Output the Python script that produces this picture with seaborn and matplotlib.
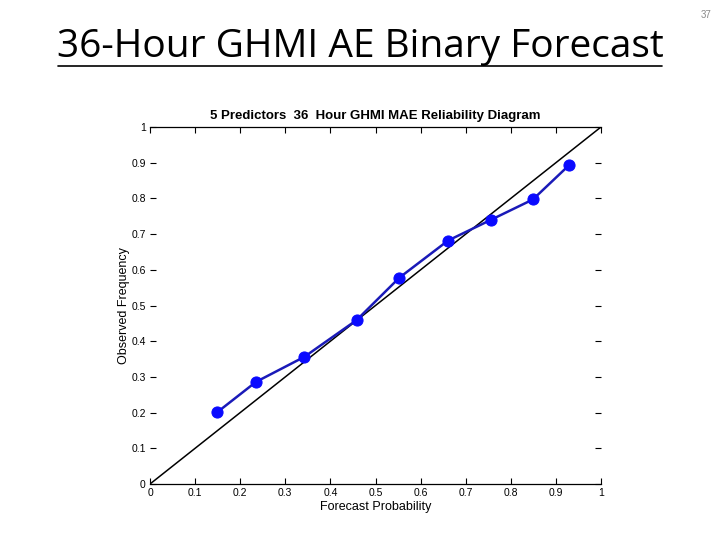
import numpy as np
import matplotlib
matplotlib.use("Agg")
import matplotlib.pyplot as plt
import seaborn as sns
import pandas as pd

# reliability points
forecast_prob = [0.149, 0.235, 0.342, 0.458, 0.553, 0.661, 0.756, 0.849, 0.930]
observed_freq = [0.201, 0.286, 0.356, 0.459, 0.578, 0.682, 0.740, 0.797, 0.894]
ticks = [0, 0.1, 0.2, 0.3, 0.4, 0.5, 0.6, 0.7, 0.8, 0.9, 1]
tick_labels = ["0", "0.1", "0.2", "0.3", "0.4", "0.5", "0.6", "0.7", "0.8", "0.9", "1"]

sns.set_style("white")
plt.rcParams["font.family"] = ["Liberation Sans", "DejaVu Sans"]
plt.rcParams["text.color"] = "black"
plt.rcParams["axes.labelcolor"] = "black"

df = pd.DataFrame({"Forecast Probability": forecast_prob,
                   "Observed Frequency": observed_freq})

fig = plt.figure(figsize=(7.2, 5.4), dpi=100)

# slide title, underlined
fig.text(0.5, 0.913, "36-Hour GHMI AE Binary Forecast", ha="center", va="center",
         fontsize=28, family=["Open Sans", "DejaVu Sans"], color="black")
fig.add_artist(plt.Line2D([58 / 720, 662 / 720], [1 - 66 / 540, 1 - 66 / 540],
                          color="black", lw=1.2, transform=fig.transFigure))
fig.text(706 / 720, 1 - 15 / 540, "37", ha="center", va="center",
         fontsize=7, color="#8a8a8a")

ax = fig.add_axes([150 / 720, 1 - 484 / 540, 451 / 720, 357 / 540])

# perfect reliability line
ax.plot([0, 1], [0, 1], color="black", lw=1.1, zorder=2)

sns.lineplot(data=df, x="Forecast Probability", y="Observed Frequency", ax=ax,
             color="#1a1ab8", lw=1.8, marker="o", markersize=8,
             markerfacecolor="#0a0aff", markeredgecolor="#0a0aff", zorder=3)

ax.set_xlim(0, 1)
ax.set_ylim(0, 1)
ax.set_xticks(ticks)
ax.set_xticklabels(tick_labels)
ax.set_yticks(ticks)
ax.set_yticklabels(tick_labels)
ax.tick_params(direction="in", length=4, width=0.8, labelsize=7.5, pad=3,
               top=True, right=True, bottom=True, left=True, colors="black")
for side in ["left", "right"]:
    ax.spines[side].set_visible(False)
for side in ["top", "bottom"]:
    ax.spines[side].set_color("black")
    ax.spines[side].set_linewidth(0.9)

ax.set_title("5 Predictors  36  Hour GHMI MAE Reliability Diagram",
             fontsize=9.5, fontweight="bold", pad=6, color="black")
ax.set_xlabel("Forecast Probability", fontsize=9, labelpad=2)
ax.set_ylabel("Observed Frequency", fontsize=9, labelpad=1)

fig.savefig("out.png", dpi=100)
